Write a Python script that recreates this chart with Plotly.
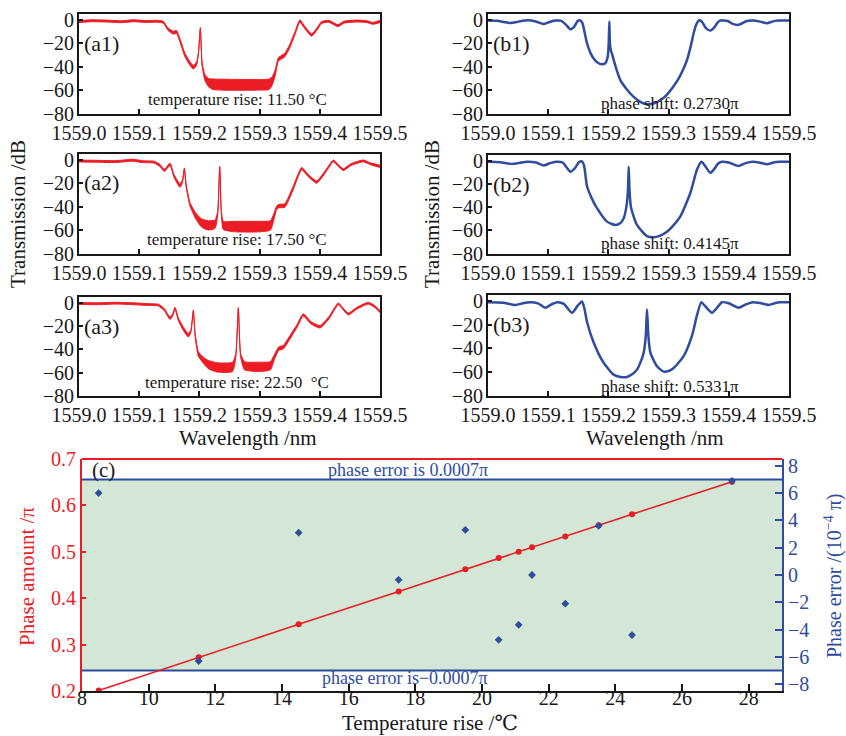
import plotly.graph_objects as go

W, H = 846, 736
RED = "#EC1C24"
BLUE = "#2F4C9E"
GREEN = "#D4E6D5"
INK = "#1A1718"
FONT = "Liberation Serif, DejaVu Serif, serif"

WL_BASE = 1559.0
WL_TICKS = [1559.0, 1559.1, 1559.2, 1559.3, 1559.4, 1559.5]
WL_TICK_TEXT = ["1559.0", "1559.1", "1559.2", "1559.3", "1559.4", "1559.5"]
DB_TICKS = [-80, -60, -40, -20, 0]

# ---- measured spectra (a1..a3): wavelength offset (nm), centre dB, noise half-width dB
A1_WL = [0.000, 0.020, 0.045, 0.070, 0.090, 0.110, 0.130, 0.140, 0.148, 0.157, 0.162, 0.168,
         0.176, 0.184, 0.190, 0.1955, 0.1985, 0.2016, 0.2045, 0.209, 0.215, 0.222, 0.300, 0.316,
         0.321, 0.326, 0.331, 0.336, 0.342, 0.350, 0.359, 0.367, 0.375, 0.3865, 0.395, 0.403,
         0.415, 0.430, 0.440, 0.460, 0.478, 0.488, 0.500]
A1_DB = [-1.5, -0.8, -1.0, -1.6, -0.8, -1.4, -1.2, -2.0, -8.0, -11.0, -10.2, -18.0,
         -30.0, -37.0, -40.5, -37.0, -28.0, -7.0, -38.0, -49.0, -53.5, -55.0, -55.5, -55.0,
         -52.0, -45.0, -34.0, -32.0, -30.0, -22.5, -11.0, -1.0, -6.5, -13.0, -8.0, -2.3,
         -1.2, -5.0, -2.0, -1.0, -1.5, -3.0, -1.4]
A1_NOISE = [0.8, 0.8, 0.8, 0.8, 0.8, 0.8, 0.8, 0.8, 1.0, 1.2, 1.2, 1.5,
            1.5, 1.5, 1.5, 1.5, 1.0, 0.5, 1.5, 2.5, 3.5, 4.5, 4.5, 4.5,
            3.5, 2.5, 1.5, 1.5, 1.5, 1.5, 1.2, 1.0, 1.0, 1.0, 1.0, 0.8,
            0.8, 0.8, 0.8, 0.8, 0.8, 0.8, 0.8]

A2_WL = [0.000, 0.030, 0.060, 0.090, 0.105, 0.125, 0.135, 0.1417, 0.1512, 0.158, 0.1678, 0.172,
         0.1750, 0.178, 0.1844, 0.194, 0.2038, 0.215, 0.226, 0.2305, 0.2337, 0.2365, 0.2398,
         0.260, 0.300, 0.318, 0.324, 0.3283, 0.332, 0.342, 0.355, 0.3699, 0.380, 0.3948, 0.408,
         0.4225, 0.430, 0.4391, 0.452, 0.4723, 0.485, 0.500]
A2_DB = [-1.0, -1.2, -1.5, -0.3, -1.5, -2.0, -5.0, -9.0, -3.8, -14.0, -22.0, -18.0,
         -7.5, -22.0, -38.0, -48.0, -54.0, -56.0, -55.0, -45.0, -6.0, -45.0, -56.0,
         -57.0, -57.0, -56.0, -48.0, -41.0, -39.5, -39.0, -25.0, -7.5, -13.0, -19.0, -11.0,
         -0.9, -4.5, -8.4, -4.0, -0.9, -3.5, -5.5]
A2_NOISE = [0.8, 0.8, 0.8, 0.8, 0.8, 0.8, 0.9, 1.0, 1.0, 1.2, 1.5, 1.2,
            0.6, 1.2, 1.5, 2.5, 3.5, 4.0, 3.5, 1.5, 0.5, 1.5, 3.5,
            4.5, 4.5, 4.0, 2.5, 1.5, 1.5, 1.5, 1.5, 1.0, 1.0, 1.0, 1.0,
            0.8, 0.8, 0.8, 0.8, 0.8, 0.8, 0.8]

A3_WL = [0.000, 0.030, 0.060, 0.090, 0.115, 0.132, 0.142, 0.1512, 0.156, 0.1595, 0.165, 0.173,
         0.1816, 0.186, 0.1899, 0.193, 0.1982, 0.206, 0.2148, 0.230, 0.255, 0.2605, 0.2647,
         0.2685, 0.275, 0.300, 0.318, 0.325, 0.3317, 0.3394, 0.350, 0.362, 0.3726, 0.385,
         0.4003, 0.415, 0.4308, 0.440, 0.4474, 0.462, 0.4806, 0.492, 0.500]
A3_DB = [-0.5, -0.8, -0.3, -0.8, -1.5, -2.0, -6.0, -13.3, -10.0, -4.6, -14.0, -22.0,
         -27.8, -24.0, -6.7, -28.0, -43.8, -49.0, -53.0, -55.5, -55.0, -45.0, -4.6,
         -45.0, -54.0, -55.0, -54.0, -46.0, -39.4, -38.0, -30.0, -20.0, -10.4, -17.0,
         -20.6, -13.0, -0.9, -6.0, -9.6, -4.5, -0.3, -3.5, -7.5]
A3_NOISE = [0.8, 0.8, 0.8, 0.8, 0.8, 0.8, 0.9, 1.0, 1.0, 0.8, 1.2, 1.5,
            1.5, 1.2, 0.6, 1.5, 2.0, 2.5, 3.5, 4.0, 4.0, 1.5, 0.5,
            1.5, 3.5, 4.0, 3.5, 2.0, 1.5, 1.5, 1.5, 1.2, 1.0, 1.0,
            1.0, 1.0, 0.8, 0.8, 0.8, 0.8, 0.8, 0.8, 0.8]

# ---- simulated spectra (b1..b3): wavelength offset (nm), dB
B1_WL = [0.000, 0.015, 0.028, 0.037, 0.046, 0.058, 0.072, 0.083, 0.0925, 0.101, 0.112, 0.122,
         0.130, 0.137, 0.143, 0.149, 0.1534, 0.157, 0.161, 0.1645, 0.170, 0.1755, 0.182, 0.189,
         0.195, 0.199, 0.2005, 0.2016, 0.2025, 0.204, 0.206, 0.212, 0.2198, 0.230, 0.242, 0.253,
         0.264, 0.275, 0.286, 0.297, 0.308, 0.318, 0.3306, 0.337, 0.3416, 0.346, 0.350, 0.3527,
         0.356, 0.362, 0.3693, 0.376, 0.381, 0.386, 0.398, 0.407, 0.4136, 0.420, 0.430, 0.440,
         0.452, 0.4635, 0.472, 0.482, 0.500]
B1_DB = [-0.6, -0.8, -2.0, -2.6, -2.0, -0.7, -0.6, -2.0, -3.6, -2.0, -0.6, -0.8,
         -4.5, -8.0, -6.0, -1.0, -0.5, -3.0, -12.0, -20.0, -28.0, -33.0, -36.5, -38.0,
         -37.0, -31.0, -20.0, -1.5, -20.0, -26.0, -29.0, -40.0, -51.5, -59.0, -65.8, -70.0,
         -72.0, -71.5, -68.7, -64.0, -57.0, -49.0, -34.3, -22.0, -11.4, -4.0, -0.7, -0.5,
         -2.0, -7.0, -9.2, -6.5, -2.5, -0.6, -1.0, -3.5, -4.3, -3.5, -1.0, -0.6,
         -1.5, -2.9, -1.5, -0.6, -0.6]

B2_WL = [0.000, 0.020, 0.040, 0.052, 0.065, 0.080, 0.0925, 0.103, 0.113, 0.124, 0.131, 0.137,
         0.145, 0.151, 0.1561, 0.1595, 0.162, 0.1645, 0.172, 0.181, 0.1977, 0.2115, 0.2195,
         0.2254, 0.2298, 0.2325, 0.2337, 0.2350, 0.2375, 0.2475, 0.2641, 0.2752, 0.2862, 0.2973,
         0.3084, 0.3195, 0.3361, 0.3472, 0.3544, 0.360, 0.3693, 0.376, 0.382, 0.3887, 0.400,
         0.4164, 0.428, 0.440, 0.452, 0.4635, 0.474, 0.484, 0.500]
B2_DB = [-0.8, -1.2, -2.7, -1.8, -0.8, -1.5, -4.1, -2.0, -0.8, -1.5, -6.0, -9.5,
         -6.0, -1.2, -0.5, -4.0, -13.0, -22.0, -32.0, -40.9, -52.5, -55.4, -54.0,
         -49.6, -40.0, -25.0, -5.2, -25.0, -40.0, -55.4, -65.0, -66.0, -64.5, -61.2,
         -55.5, -48.0, -27.8, -7.6, -0.8, -4.0, -10.4, -7.0, -2.5, -0.8, -1.5,
         -4.5, -2.0, -0.8, -1.6, -3.0, -1.5, -0.8, -0.8]

B3_WL = [0.000, 0.025, 0.0454, 0.058, 0.070, 0.083, 0.0952, 0.105, 0.115, 0.126, 0.1395, 0.149,
         0.1561, 0.160, 0.1645, 0.1755, 0.1921, 0.2087, 0.220, 0.2309, 0.240, 0.2475, 0.2545,
         0.2586, 0.262, 0.2641, 0.2665, 0.2697, 0.2807, 0.2918, 0.3000, 0.3084, 0.325, 0.3389,
         0.3472, 0.3544, 0.360, 0.3721, 0.380, 0.3887, 0.400, 0.4164, 0.428, 0.440, 0.452,
         0.4662, 0.476, 0.485, 0.500]
B3_DB = [-1.1, -1.5, -3.4, -2.0, -1.1, -2.0, -5.7, -3.0, -1.1, -2.5, -10.0, -4.0,
         -0.5, -6.0, -17.7, -34.9, -52.0, -62.0, -64.0, -64.0, -61.5, -57.8, -50.0,
         -43.5, -30.0, -6.9, -30.0, -43.5, -55.0, -59.5, -59.0, -56.4, -46.4, -29.2,
         -12.0, -1.0, -4.0, -10.0, -6.0, -1.1, -2.0, -5.7, -3.0, -1.1, -1.8,
         -3.4, -2.0, -1.1, -1.1]

A_LABELS = ["(a1)", "(a2)", "(a3)"]
A_NOTES = ["temperature rise: 11.50 °C", "temperature rise: 17.50 °C", "temperature rise: 22.50  °C"]
B_LABELS = ["(b1)", "(b2)", "(b3)"]
B_NOTES = ["phase shift: 0.2730π", "phase shift: 0.4145π", "phase shift: 0.5331π"]

# ---- panel (c)
TEMP_RISE = [8.5, 11.5, 14.5, 17.5, 19.5, 20.5, 21.1, 21.5, 22.5, 23.5, 24.5, 27.5]
PHASE_AMOUNT = [0.201, 0.2730, 0.3437, 0.4145, 0.4623, 0.4866, 0.5002, 0.5097, 0.5331, 0.5570, 0.5810, 0.6510]
PHASE_ERROR = [6.0, -6.3, 3.1, -0.35, 3.3, -4.75, -3.65, 0.0, -2.1, 3.6, -4.4, 6.9]
ERROR_LIMIT = 7.0
T_TICKS = [8, 10, 12, 14, 16, 18, 20, 22, 24, 26, 28]
P_TICKS = [0.2, 0.3, 0.4, 0.5, 0.6, 0.7]
E_TICKS = [-8, -6, -4, -2, 0, 2, 4, 6, 8]


def fx(p):
    return p / W


def fy(p):
    return 1 - p / H


fig = go.Figure()
layout = dict(width=W, height=H, margin=dict(l=0, r=0, t=0, b=0, autoexpand=False),
              paper_bgcolor="white", plot_bgcolor="white", showlegend=False,
              font=dict(family=FONT, color=INK))
annotations = []
shapes = []

# panel boxes in pixels: (left, right, top, bottom)
A_BOX = [(79, 380, 14, 113.5), (79, 380, 154, 253.5), (79, 380, 297, 396)]
B_BOX = [(488, 789, 14, 113.5), (488, 789, 155, 253.5), (488, 789, 295, 396)]

measured = [(A1_WL, A1_DB, A1_NOISE), (A2_WL, A2_DB, A2_NOISE), (A3_WL, A3_DB, A3_NOISE)]
simulated = [(B1_WL, B1_DB), (B2_WL, B2_DB), (B3_WL, B3_DB)]


def spectrum_axes(i, box):
    l, r, t, b = box
    ax = dict(domain=[fx(l), fx(r)], anchor=f"y{i}", range=[1559.0, 1559.5], automargin=False,
              tickvals=WL_TICKS, ticktext=WL_TICK_TEXT, ticks="inside", ticklen=5, tickwidth=1.5,
              tickcolor=INK, showline=True, mirror=True, linecolor=INK, linewidth=2,
              ticklabelstandoff=0,
              showgrid=False, zeroline=False, tickfont=dict(family=FONT, size=20, color=INK))
    ay = dict(domain=[fy(b), fy(t)], anchor=f"x{i}", range=[-80, 5], automargin=False,
              tickvals=DB_TICKS, ticks="inside", ticklen=4, tickwidth=1.5, tickcolor=INK,
              showline=True, mirror=True, linecolor=INK, linewidth=2, ticklabelstandoff=-1,
              showgrid=False, zeroline=False, tickfont=dict(family=FONT, size=20, color=INK))
    layout[f"xaxis{i}"] = ax
    layout[f"yaxis{i}"] = ay


for k in range(3):
    i = k + 1
    spectrum_axes(i, A_BOX[k])
    wl, db, nz = measured[k]
    xs = [WL_BASE + w for w in wl]
    upper = [d + n for d, n in zip(db, nz)]
    lower = [d - n for d, n in zip(db, nz)]
    fig.add_trace(go.Scatter(x=xs + xs[::-1], y=upper + lower[::-1], mode="lines",
                             fill="toself", fillcolor=RED,
                             line=dict(color=RED, width=1, shape="spline", smoothing=0.5),
                             xaxis=f"x{i}", yaxis=f"y{i}", hoverinfo="skip"))
    l, r, t, b = A_BOX[k]
    annotations.append(dict(text=A_LABELS[k], x=fx(l + 3), y=fy(t + 29), xref="paper", yref="paper",
                            xanchor="left", yanchor="middle", showarrow=False,
                            font=dict(family=FONT, size=22, color=INK)))
    annotations.append(dict(text=A_NOTES[k], x=fx(l + 158), y=fy(b - 14), xref="paper", yref="paper",
                            xanchor="center", yanchor="middle", showarrow=False,
                            font=dict(family=FONT, size=17, color=INK)))

for k in range(3):
    i = k + 4
    spectrum_axes(i, B_BOX[k])
    wl, db = simulated[k]
    xs = [WL_BASE + w for w in wl]
    fig.add_trace(go.Scatter(x=xs, y=db, mode="lines",
                             line=dict(color=BLUE, width=2.5, shape="spline", smoothing=0.6),
                             xaxis=f"x{i}", yaxis=f"y{i}", hoverinfo="skip"))
    l, r, t, b = B_BOX[k]
    annotations.append(dict(text=B_LABELS[k], x=fx(l + 3), y=fy(t + 29), xref="paper", yref="paper",
                            xanchor="left", yanchor="middle", showarrow=False,
                            font=dict(family=FONT, size=22, color=INK)))
    annotations.append(dict(text=B_NOTES[k], x=fx(670), y=fy(b - 10), xref="paper", yref="paper",
                            xanchor="center", yanchor="middle", showarrow=False,
                            font=dict(family=FONT, size=17, color=INK)))

# axis titles of the spectra
for xc in (18, 432):
    annotations.append(dict(text="Transmission /dB", x=fx(xc), y=fy(214), xref="paper", yref="paper",
                            textangle=-90, showarrow=False, xanchor="center", yanchor="middle",
                            font=dict(family=FONT, size=21, color=INK)))
for xc in (248, 655):
    annotations.append(dict(text="Wavelength /nm", x=fx(xc), y=fy(438), xref="paper", yref="paper",
                            showarrow=False, xanchor="center", yanchor="middle",
                            font=dict(family=FONT, size=21, color=INK)))

# ---- panel (c)
CL, CR, CT, CB = 82, 782, 459, 691
layout["xaxis7"] = dict(domain=[fx(CL), fx(CR)], anchor="y7", range=[8, 29], tickvals=T_TICKS,
                        automargin=False, ticklabelstandoff=-12,
                        ticks="inside", ticklen=7, tickwidth=2, tickcolor=INK, showline=True,
                        linecolor=INK, linewidth=2, showgrid=False, zeroline=False,
                        tickfont=dict(family=FONT, size=20, color=INK))
layout["yaxis7"] = dict(domain=[fy(CB), fy(CT)], anchor="x7", range=[0.2, 0.7], tickvals=P_TICKS,
                        ticktext=[f"{v:.1f}" for v in P_TICKS], automargin=False,
                        ticks="inside", ticklen=4, tickwidth=1.5, tickcolor=RED, showline=True,
                        linecolor=RED, linewidth=2, showgrid=False, zeroline=False,
                        tickfont=dict(family=FONT, size=20, color=RED))
layout["yaxis8"] = dict(domain=[fy(CB), fy(CT)], anchor="x7", overlaying="y7", side="right",
                        range=[-8.5, 8.5], tickvals=E_TICKS, ticks="inside", ticklen=7,
                        automargin=False,
                        tickwidth=2, tickcolor=BLUE, showline=True, linecolor=BLUE, linewidth=2,
                        showgrid=False, zeroline=False,
                        tickfont=dict(family=FONT, size=20, color=BLUE))

shapes.append(dict(type="rect", xref="x7 domain", yref="y8", x0=0, x1=1,
                   y0=-ERROR_LIMIT, y1=ERROR_LIMIT, fillcolor=GREEN, line=dict(width=0), layer="below"))
for lim in (ERROR_LIMIT, -ERROR_LIMIT):
    shapes.append(dict(type="line", xref="x7 domain", yref="y8", x0=0, x1=1, y0=lim, y1=lim,
                       line=dict(color=BLUE, width=2), layer="below"))
shapes.append(dict(type="line", xref="x7 domain", yref="y7 domain", x0=0, x1=1, y0=1, y1=1,
                   line=dict(color=RED, width=2)))

fig.add_trace(go.Scatter(x=TEMP_RISE, y=PHASE_AMOUNT, mode="lines+markers",
                         line=dict(color=RED, width=1.5), marker=dict(color=RED, size=6),
                         xaxis="x7", yaxis="y7", hoverinfo="skip"))
fig.add_trace(go.Scatter(x=TEMP_RISE, y=PHASE_ERROR, mode="markers",
                         marker=dict(color=BLUE, size=6, symbol="diamond"),
                         xaxis="x7", yaxis="y8", hoverinfo="skip"))

annotations += [
    dict(text="(c)", x=fx(90), y=fy(470), xref="paper", yref="paper", xanchor="left",
         yanchor="middle", showarrow=False, font=dict(family=FONT, size=21, color=INK)),
    dict(text="phase error is 0.0007π", x=fx(408), y=fy(470), xref="paper", yref="paper",
         showarrow=False, xanchor="center", yanchor="middle", font=dict(family=FONT, size=18, color=BLUE)),
    dict(text="phase error is−0.0007π", x=fx(405), y=fy(678), xref="paper", yref="paper",
         showarrow=False, xanchor="center", yanchor="middle", font=dict(family=FONT, size=18, color=BLUE)),
    dict(text="Phase amount /π", x=fx(27), y=fy(577), xref="paper", yref="paper", textangle=-90,
         showarrow=False, xanchor="center", yanchor="middle", font=dict(family=FONT, size=21, color=RED)),
    dict(text="Phase error /(10<sup>−4</sup> π)", x=fx(833), y=fy(576), xref="paper", yref="paper",
         textangle=-90, showarrow=False, xanchor="center", yanchor="middle",
         font=dict(family=FONT, size=20, color=BLUE)),
    dict(text="Temperature rise /℃", x=fx(430), y=fy(723), xref="paper", yref="paper",
         showarrow=False, xanchor="center", yanchor="middle", font=dict(family=FONT, size=21, color=INK)),
]

layout["annotations"] = annotations
layout["shapes"] = shapes
fig.update_layout(**layout)
fig.write_html("out.html")
